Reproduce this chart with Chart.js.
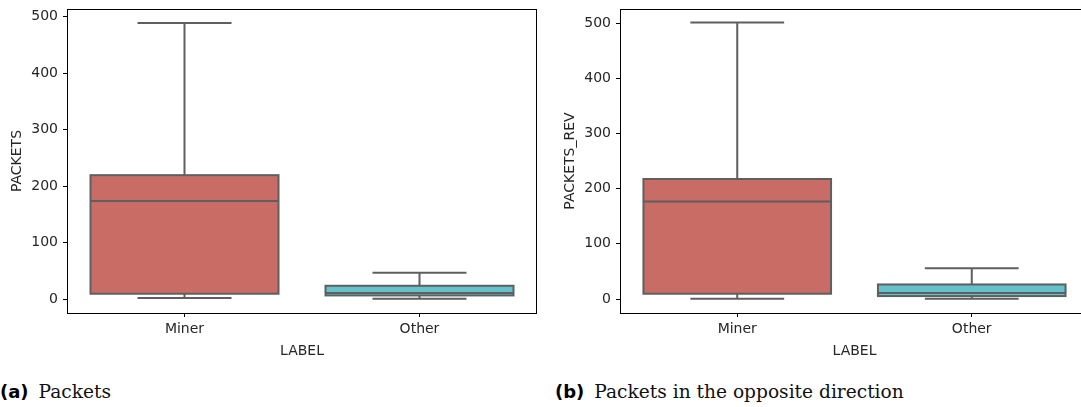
<!DOCTYPE html>
<html><head><meta charset="utf-8">
<script src="https://cdn.jsdelivr.net/npm/chart.js@4"></script>
<style>
body{margin:0;background:#fff;width:1081px;height:407px;overflow:hidden;position:relative;font-family:"DejaVu Sans",sans-serif}
.c{position:absolute;top:0;height:360px}
.cap{position:absolute;top:381px;font-family:"DejaVu Serif",serif;font-size:18.6px;color:#111;white-space:nowrap}
.cap b{font-family:"DejaVu Sans",sans-serif;font-weight:bold;font-size:18px;margin-right:10px;color:#000}
</style></head>
<body>
<div class="c" style="left:0;width:545px"><canvas id="a"></canvas></div>
<div class="c" style="left:545px;width:550px"><canvas id="b"></canvas></div>
<div class="cap" style="left:0"><b>(a)</b>Packets</div>
<div class="cap" style="left:555px"><b>(b)</b>Packets in the opposite direction</div>
<script>
const categories = ["Miner", "Other"];
const yTicks = [0, 100, 200, 300, 400, 500];
// Panel (a): PACKETS
const aMin = [1.7, 0.5];
const aQ1 = [9.4, 6.4];
const aMed = [173.5, 10.6];
const aQ3 = [219.3, 23.5];
const aMax = [488.8, 46.4];
// Panel (b): PACKETS_REV
const bMin = [0.5, 0.5];
const bQ1 = [9.6, 5.4];
const bMed = [176.5, 10.8];
const bQ3 = [217.5, 26.4];
const bMax = [501, 56];
const fills = ["#c96c66", "#63c2cb"];
const lineCol = "#5f5f5f";

function makeChart(id, yTitle, mn, q1, med, q3, mx, yRange, yW, padR, titlePad) {
  const boxPlugin = {
    id: 'box' + id,
    afterDatasetsDraw(chart) {
      const ctx = chart.ctx, x = chart.scales.x, y = chart.scales.y;
      const meta = chart.getDatasetMeta(0);
      ctx.save();
      ctx.strokeStyle = lineCol; ctx.lineWidth = 2; ctx.lineCap = 'butt'; ctx.lineJoin = 'miter';
      categories.forEach((c, i) => {
        const cx = x.getPixelForValue(i);
        const bw = meta.data[i].width;
        const half = bw / 2, capHalf = bw / 4;
        const yMin = y.getPixelForValue(mn[i]), yQ1 = y.getPixelForValue(q1[i]);
        const yQ3 = y.getPixelForValue(q3[i]), yMax = y.getPixelForValue(mx[i]);
        const yMed = y.getPixelForValue(med[i]);
        ctx.beginPath();
        ctx.moveTo(cx, yQ3); ctx.lineTo(cx, yMax);
        ctx.moveTo(cx - capHalf, yMax); ctx.lineTo(cx + capHalf, yMax);
        ctx.moveTo(cx, yQ1); ctx.lineTo(cx, yMin);
        ctx.moveTo(cx - capHalf, yMin); ctx.lineTo(cx + capHalf, yMin);
        ctx.moveTo(cx - half, yMed); ctx.lineTo(cx + half, yMed);
        ctx.stroke();
        ctx.strokeRect(cx - half, yQ3, bw, yQ1 - yQ3);
      });
      const a = chart.chartArea;
      ctx.strokeStyle = '#000'; ctx.lineWidth = 1;
      ctx.strokeRect(Math.round(a.left) + 0.5, Math.round(a.top) + 0.5, Math.round(a.right - a.left) - 1, Math.round(a.bottom - a.top));
      ctx.restore();
    }
  };
  return new Chart(document.getElementById(id), {
    type: 'bar',
    data: {
      labels: categories,
      datasets: [{
        data: categories.map((c, i) => [q1[i], q3[i]]),
        backgroundColor: fills,
        borderWidth: 0,
        categoryPercentage: 0.8,
        barPercentage: 1
      }]
    },
    options: {
      responsive: true, maintainAspectRatio: false, animation: false,
      layout: { padding: { top: 0, right: padR, left: 0, bottom: 0 } },
      plugins: { legend: { display: false }, tooltip: { enabled: false } },
      scales: {
        x: {
          grid: { display: true, drawOnChartArea: false, drawTicks: true, tickLength: 4, color: '#000', offset: false },
          border: { display: false },
          ticks: { color: '#262626', font: { family: 'DejaVu Sans', size: 14 }, padding: 4 },
          title: { display: true, text: 'LABEL', color: '#262626', font: { family: 'DejaVu Sans', size: 14 }, padding: { top: 0, bottom: 0 } },
          afterFit: s => { s.height = 47; s.paddingLeft = 0; s.paddingRight = 0; }
        },
        y: {
          min: yRange[0], max: yRange[1],
          grid: { display: true, drawOnChartArea: false, drawTicks: true, tickLength: 4, color: '#000' },
          border: { display: false },
          ticks: { color: '#262626', font: { family: 'DejaVu Sans', size: 14 }, padding: 5 },
          title: { display: true, text: yTitle, color: '#262626', font: { family: 'DejaVu Sans', size: 14 }, padding: { top: titlePad, bottom: 0 } },
          afterBuildTicks: s => { s.ticks = yTicks.map(v => ({ value: v })); },
          afterFit: s => { s.width = yW; s.paddingTop = 9; s.paddingBottom = 0; }
        }
      }
    },
    plugins: [boxPlugin]
  });
}
makeChart('a', 'PACKETS', aMin, aQ1, aMed, aQ3, aMax, [-24.7, 513.5], 67, 8, 9);
makeChart('b', 'PACKETS_REV', bMin, bQ1, bMed, bQ3, bMax, [-25.3, 525.5], 75, 6, 17);
</script>
</body></html>
